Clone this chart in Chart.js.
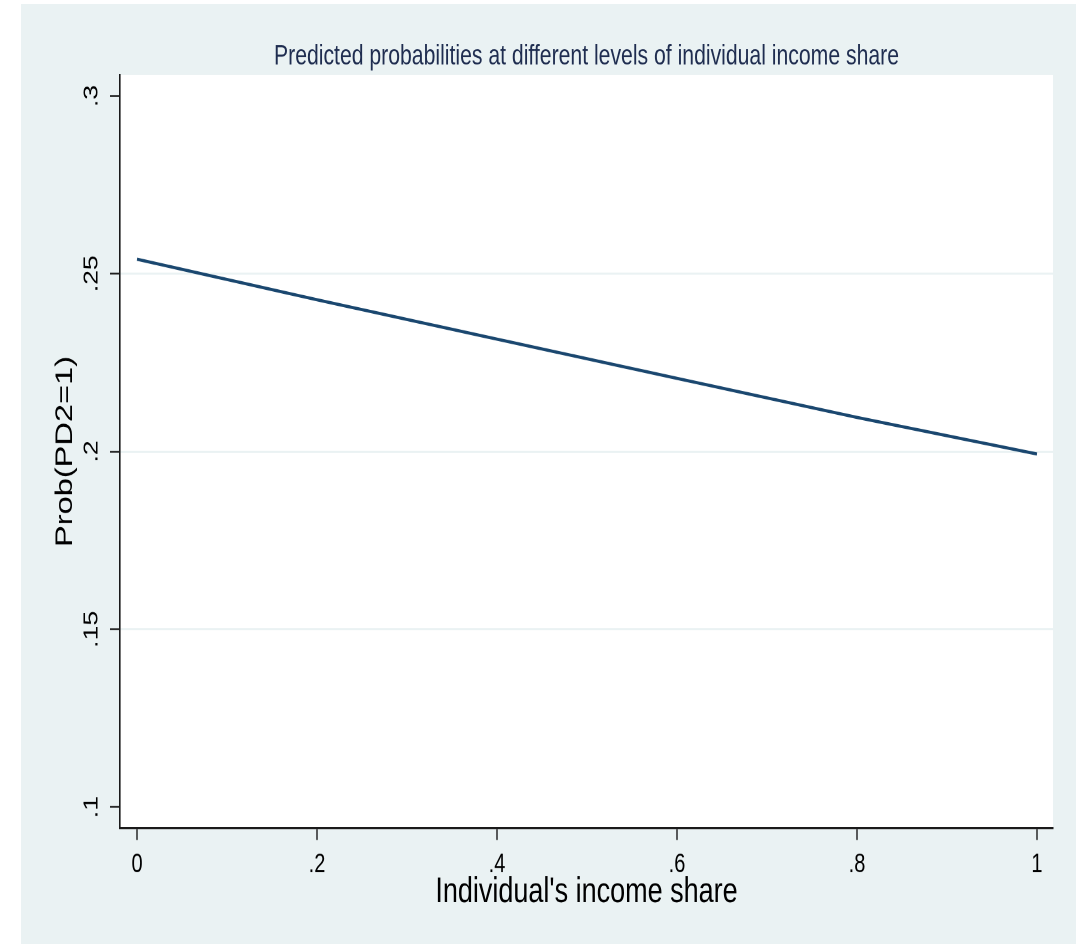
<!DOCTYPE html>
<html>
<head>
<meta charset="utf-8">
<style>
html,body{margin:0;padding:0;background:#ffffff;overflow:hidden;width:1076px;height:944px}
#wrap{width:1076px;height:710px;transform:scaleY(1.329577);transform-origin:0 0}
canvas{display:block}
</style>
<script src="https://cdn.jsdelivr.net/npm/chart.js@4/dist/chart.umd.min.js"></script>
</head>
<body>
<div id="wrap"><canvas id="c" width="1076" height="710"></canvas></div>
<script>
// ---- data ----
const incomeShare = [0, 0.2, 0.4, 0.6, 0.8, 1];
const probPD2 = [0.2541, 0.2427, 0.2316, 0.2206, 0.2096, 0.1993];
const xTicks = [0, 0.2, 0.4, 0.6, 0.8, 1];
const yTicks = [0.1, 0.15, 0.2, 0.25, 0.3];
const xAxisRange = [-0.0189, 1.0178];
const yAxisRange = [0.0941, 0.3059];
const chartTitle = 'Predicted probabilities at different levels of individual income share';
const xTitle = "Individual's income share";
const yTitle = 'Prob(PD2=1)';

// ---- layout helpers ----
const K = 944 / 710;          // vertical stretch applied to the canvas
const FONT = "'Liberation Sans', Arial, Helvetica, sans-serif";
const BG = '#eaf2f3';
const AXIS = '#1a1a1a';

const fmt = v => {
  const s = String(+Number(v).toFixed(2));
  return s.replace(/^0\./, '.').replace(/^-0\./, '-.');
};

const bgPlugin = {
  id: 'bg',
  beforeDraw(chart) {
    const {ctx, chartArea: a, width, height} = chart;
    ctx.save();
    ctx.fillStyle = '#ffffff';
    ctx.fillRect(0, 0, width, height);
    ctx.fillStyle = BG;
    ctx.fillRect(21, 4 / K, width - 21, height - 4 / K);
    ctx.fillStyle = '#ffffff';
    ctx.fillRect(a.left, a.top, a.right - a.left, a.bottom - a.top);
    ctx.restore();
  }
};

const points = incomeShare.map((x, i) => ({x: x, y: probPD2[i]}));

new Chart(document.getElementById('c'), {
  type: 'line',
  data: {
    datasets: [{
      data: points,
      borderColor: '#1a476f',
      backgroundColor: '#1a476f',
      borderWidth: 2.4,
      pointRadius: 0,
      tension: 0,
      fill: false
    }]
  },
  options: {
    responsive: false,
    animation: false,
    devicePixelRatio: 2,
    layout: {padding: {left: 21, right: 23, top: 30.0, bottom: 0}},
    plugins: {
      legend: {display: false},
      tooltip: {enabled: false},
      title: {
        display: true,
        text: chartTitle,
        fullSize: false,
        color: '#1f2d50',
        font: {family: FONT, size: 21.2, weight: 'normal'},
        padding: {top: 0, bottom: 1}
      }
    },
    scales: {
      x: {
        type: 'linear',
        min: xAxisRange[0],
        max: xAxisRange[1],
        afterFit: s => { s.height = (944 - 828) / K; },
        afterBuildTicks: s => { s.ticks = xTicks.map(v => ({value: v})); },
        grid: {drawOnChartArea: false, drawTicks: true, tickLength: 9, tickColor: AXIS, tickWidth: 1.4},
        border: {display: true, color: AXIS, width: 1.6},
        ticks: {
          callback: v => fmt(v),
          color: '#000000',
          font: {family: FONT, size: 20},
          padding: 6.5,
          maxRotation: 0,
          minRotation: 0,
          autoSkip: false
        },
        title: {
          display: true,
          text: xTitle,
          color: '#000000',
          font: {family: FONT, size: 27},
          padding: {top: 0, bottom: 23}
        }
      },
      y: {
        type: 'linear',
        min: yAxisRange[0],
        max: yAxisRange[1],
        afterFit: s => { s.width = 99; },
        afterBuildTicks: s => { s.ticks = yTicks.map(v => ({value: v})); },
        grid: {
          drawOnChartArea: true,
          drawTicks: true,
          tickLength: 10,
          tickColor: AXIS,
          tickWidth: 1.3,
          lineWidth: 1.5,
          color: ctx => {
            const v = ctx.tick ? ctx.tick.value : null;
            if (v === null) return 'rgba(0,0,0,0)';
            const first = yTicks[0], last = yTicks[yTicks.length - 1];
            return (Math.abs(v - first) < 1e-9 || Math.abs(v - last) < 1e-9) ? 'rgba(0,0,0,0)' : BG;
          }
        },
        border: {display: true, color: AXIS, width: 1.6},
        ticks: {
          callback: v => fmt(v),
          color: '#000000',
          font: {family: FONT, size: 20},
          padding: 4,
          minRotation: 90,
          maxRotation: 90,
          crossAlign: 'center',
          autoSkip: false
        },
        title: {
          display: true,
          text: yTitle,
          color: '#000000',
          font: {family: FONT, size: 24.5},
          padding: {top: 29.4, bottom: 0}
        }
      }
    }
  },
  plugins: [bgPlugin]
});
</script>
</body>
</html>
